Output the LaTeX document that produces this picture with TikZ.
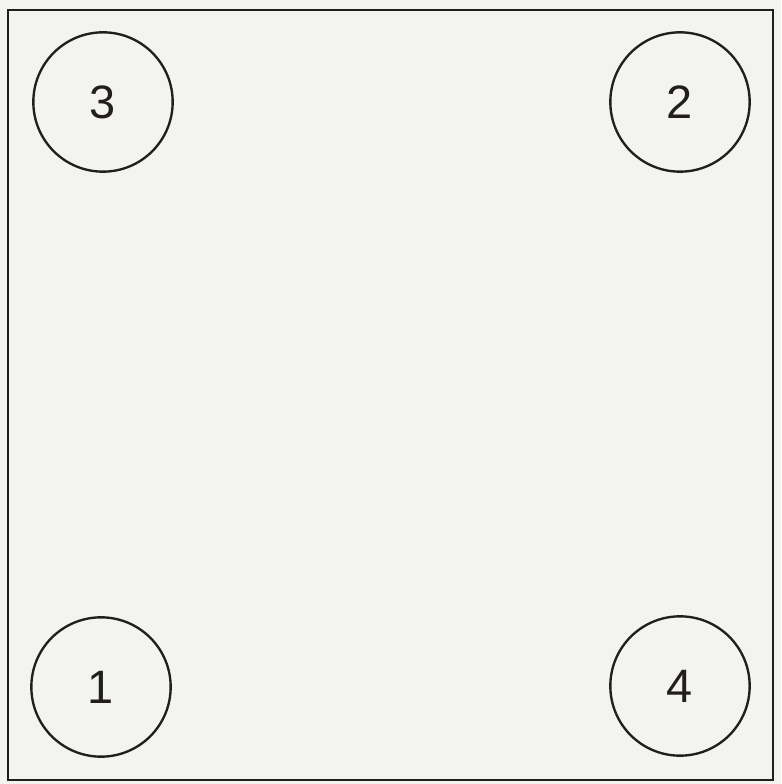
\documentclass[tikz,border=0pt]{standalone}
\usepackage{fontspec}
\setmainfont{Liberation Sans}
\usepackage{tikz}
\usetikzlibrary{positioning}
\usepackage{xcolor}
\definecolor{paper}{RGB}{243,243,239}
\definecolor{lineblack}{RGB}{35,30,30}

\begin{document}
\begin{tikzpicture}[
  x=0.03cm, y=0.03cm,
  post/.style={circle, draw=lineblack, minimum size=4.18cm, inner sep=0pt, line width=2pt, text=lineblack, font=\fontsize{40}{40}\selectfont},
  frame/.style={draw=lineblack, line width=2.2pt}
]
\fill[paper] (0,0) rectangle (781,784);
\useasboundingbox (0,0) rectangle (781,784);
\draw[frame] (8,4) rectangle (773,774);

% corner posts
\node[post] (p3) at (103,682) {3};
\node[post] (p2) at (680,682) {2};
\node[post] (p1) at (101,97) {1};
\node[post] (p4) at (680,98) {4};
\end{tikzpicture}
\end{document}
